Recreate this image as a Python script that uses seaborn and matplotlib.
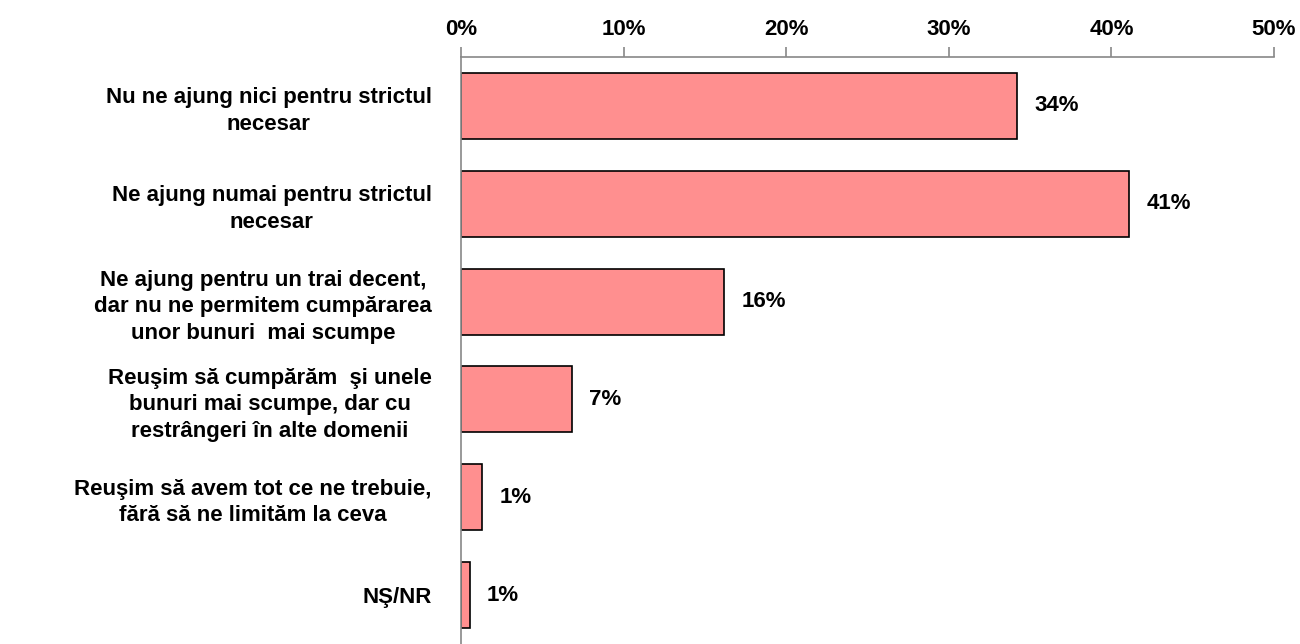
import pandas as pd
import seaborn as sns
import matplotlib.pyplot as plt
from matplotlib.ticker import FixedLocator, PercentFormatter

# Data
categories = [
    "Nu ne ajung nici pentru strictul\nnecesar",
    "Ne ajung numai pentru strictul\nnecesar",
    "Ne ajung pentru un trai decent,\ndar nu ne permitem cumpărarea\nunor bunuri  mai scumpe",
    "Reuşim să cumpărăm  şi unele\nbunuri mai scumpe, dar cu\nrestrângeri în alte domenii",
    "Reuşim să avem tot ce ne trebuie,\nfără să ne limităm la ceva",
    "NŞ/NR",
]
values = [34.2, 41.1, 16.2, 6.8, 1.3, 0.55]
value_labels = ["34%", "41%", "16%", "7%", "1%", "1%"]

df = pd.DataFrame({"cat": categories, "val": values})

sns.set_style("white")
plt.rcParams["font.family"] = ["Liberation Sans", "DejaVu Sans"]
plt.rcParams["text.color"] = "black"
plt.rcParams["xtick.labelcolor"] = "black"
plt.rcParams["ytick.labelcolor"] = "black"

FS = 16

fig = plt.figure(figsize=(13, 6.44), dpi=100)
ax = fig.add_axes([0.3546, 0.0, 0.6254, 0.9115])

sns.barplot(data=df, x="val", y="cat", orient="h", color="#FF8F8F",
            saturation=1, width=0.675, edgecolor="black", linewidth=1.2, ax=ax)

for i, (v, lab) in enumerate(zip(values, value_labels)):
    ax.text(v + 1.05, i, lab, va="center", ha="left", fontsize=FS,
            fontweight="bold")

ax.set_xlim(0, 50)
ax.set_ylim(5.5, -0.5)
ax.xaxis.tick_top()
ax.set_xticks([0, 10, 20, 30, 40, 50])
ax.xaxis.set_major_formatter(PercentFormatter(decimals=0))
ax.tick_params(axis="x", length=7, width=1.2, color="#888888", pad=5,
               labelsize=FS)
for t in ax.get_xticklabels():
    t.set_fontweight("bold")

ax.yaxis.set_minor_locator(FixedLocator([-0.5, 0.5, 1.5, 2.5, 3.5, 4.5]))
ax.tick_params(axis="y", which="major", length=0, pad=21, labelsize=FS)
ax.tick_params(axis="y", which="minor", length=7, width=1.2, color="#888888")
for t in ax.get_yticklabels():
    t.set_fontweight("bold")
    t.set_multialignment("center")
    t.set_linespacing(1.35)

ax.set_xlabel("")
ax.set_ylabel("")
for s in ["right", "bottom"]:
    ax.spines[s].set_visible(False)
for s in ["top", "left"]:
    ax.spines[s].set_color("#888888")
    ax.spines[s].set_linewidth(1.2)

fig.savefig("out.png", dpi=100)
